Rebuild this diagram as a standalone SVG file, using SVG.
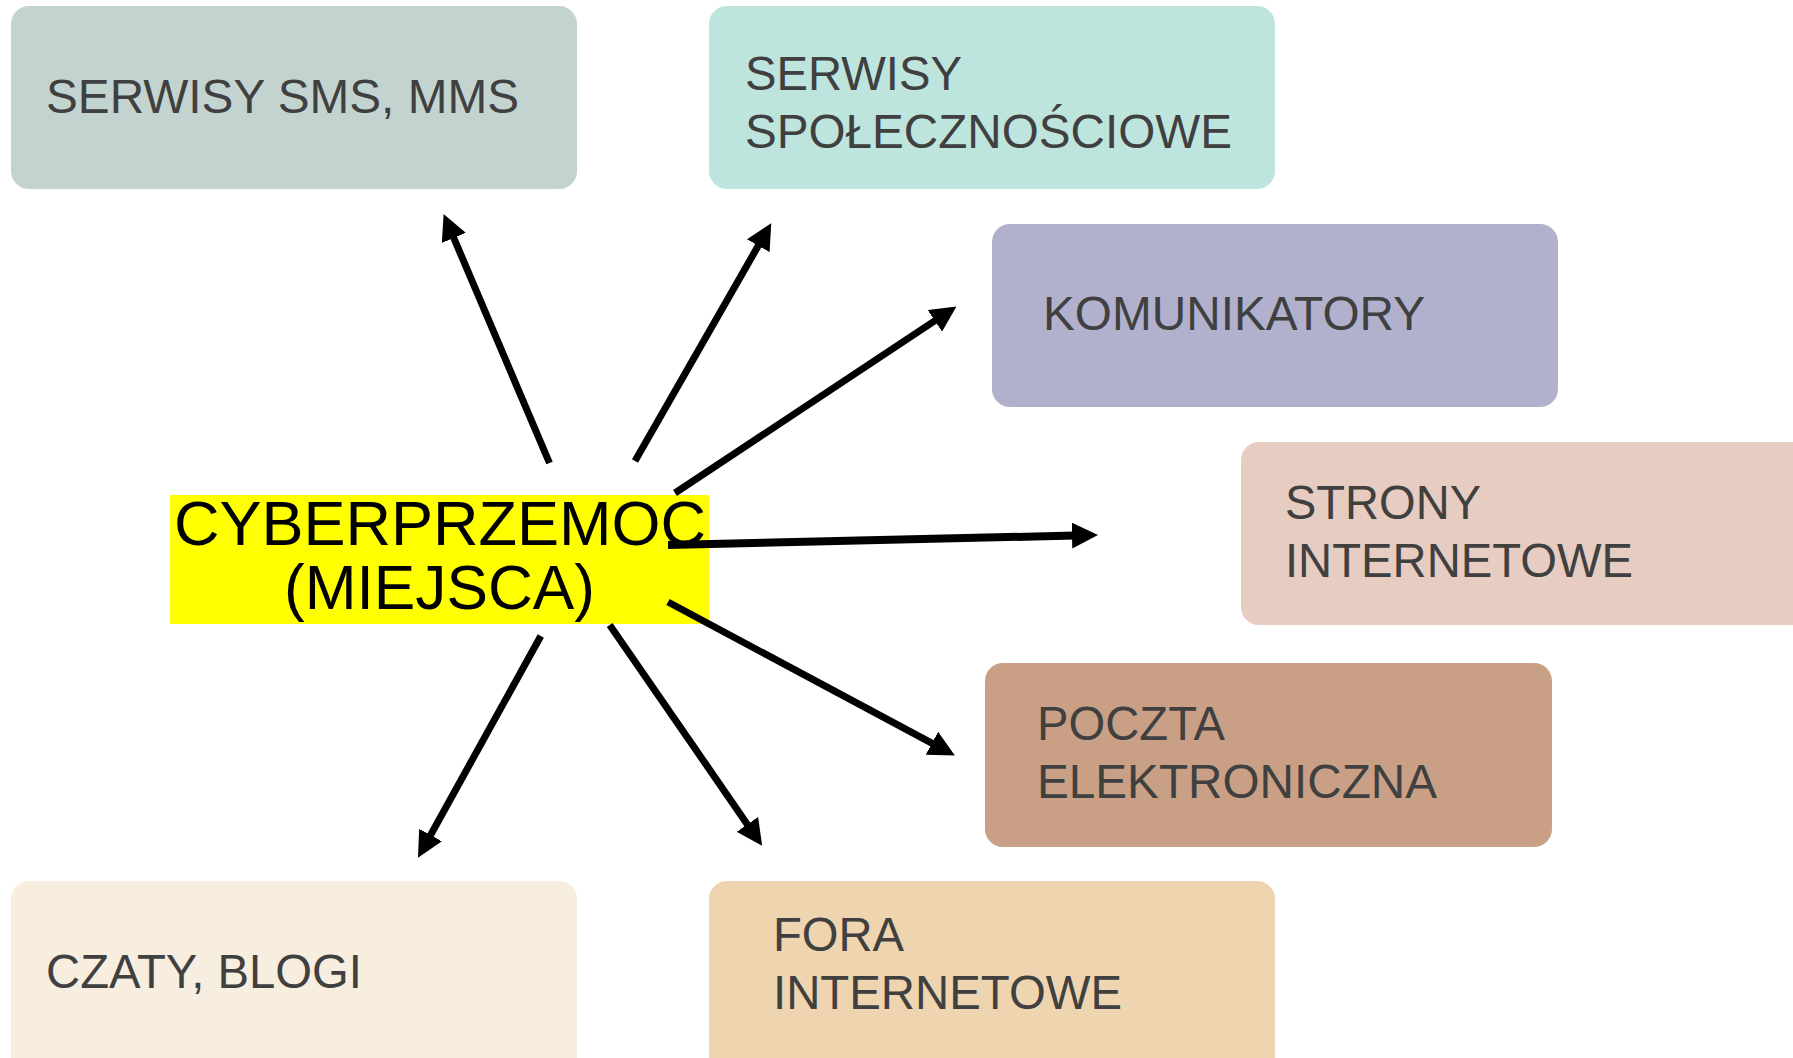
<svg xmlns="http://www.w3.org/2000/svg" width="1793" height="1058" viewBox="0 0 1793 1058">
<style>
.lbl{font-family:"Liberation Sans",Arial,sans-serif;font-size:48px;fill:#404040}
.ctr{font-family:"Liberation Sans",Arial,sans-serif;font-size:63px;fill:#000}
.con{stroke:#000;stroke-width:7;fill:none;marker-end:url(#ah)}
</style>
<defs>
<marker id="ah" markerUnits="userSpaceOnUse" markerWidth="26" markerHeight="26" refX="3" refY="13" orient="auto" viewBox="0 0 26 26">
<path d="M0,0 L26,13 L0,26 z" fill="#000"/>
</marker>
</defs>
<rect width="1793" height="1058" fill="#fff"/>
<g id="n-sms">
<rect x="11" y="6" width="566" height="183" rx="18" fill="#C3D4D0"/>
<text class="lbl" x="46" y="113" textLength="473" lengthAdjust="spacingAndGlyphs">SERWISY SMS, MMS</text>
</g>
<g id="n-spol">
<rect x="709" y="6" width="566" height="183" rx="18" fill="#BEE5DD"/>
<text class="lbl" x="745" y="90" textLength="217" lengthAdjust="spacingAndGlyphs">SERWISY</text>
<text class="lbl" x="745" y="148" textLength="487" lengthAdjust="spacingAndGlyphs">SPOŁECZNOŚCIOWE</text>
</g>
<g id="n-kom">
<rect x="992" y="224" width="566" height="183" rx="18" fill="#B1B1CE"/>
<text class="lbl" x="1043" y="330" textLength="382" lengthAdjust="spacingAndGlyphs">KOMUNIKATORY</text>
</g>
<g id="n-strony">
<rect x="1241" y="442" width="580" height="183" rx="18" fill="#E7CCC1"/>
<text class="lbl" x="1285" y="519" textLength="196" lengthAdjust="spacingAndGlyphs">STRONY</text>
<text class="lbl" x="1285" y="577" textLength="348" lengthAdjust="spacingAndGlyphs">INTERNETOWE</text>
</g>
<g id="n-poczta">
<rect x="985" y="663" width="567" height="184" rx="18" fill="#C9A086"/>
<text class="lbl" x="1037" y="740" textLength="188" lengthAdjust="spacingAndGlyphs">POCZTA</text>
<text class="lbl" x="1037" y="798" textLength="400" lengthAdjust="spacingAndGlyphs">ELEKTRONICZNA</text>
</g>
<g id="n-czaty">
<rect x="11" y="881" width="566" height="200" rx="18" fill="#F7EEE0"/>
<text class="lbl" x="46" y="988" textLength="316" lengthAdjust="spacingAndGlyphs">CZATY, BLOGI</text>
</g>
<g id="n-fora">
<rect x="709" y="881" width="566" height="200" rx="18" fill="#EFD4B0"/>
<text class="lbl" x="773" y="951" textLength="131" lengthAdjust="spacingAndGlyphs">FORA</text>
<text class="lbl" x="773" y="1009" textLength="349" lengthAdjust="spacingAndGlyphs">INTERNETOWE</text>
</g>
<g id="n-center">
<rect x="170" y="495" width="539" height="129" fill="#FFFF00"/>
<text class="ctr" x="174" y="545" textLength="532" lengthAdjust="spacingAndGlyphs">CYBERPRZEMOC</text>
<text class="ctr" x="284" y="609" textLength="311" lengthAdjust="spacingAndGlyphs">(MIEJSCA)</text>
</g>
<g id="connectors">
<line class="con" x1="549.5" y1="463" x2="452.6" y2="235.2"/>
<line class="con" x1="635" y1="461" x2="759.8" y2="243.1"/>
<line class="con" x1="675" y1="493" x2="937.3" y2="319.2"/>
<line class="con" x1="668" y1="545" x2="1075" y2="535.5" style="stroke-width:8"/>
<line class="con" x1="668" y1="602" x2="934.6" y2="744.6"/>
<line class="con" x1="609.7" y1="625" x2="749.1" y2="826.9"/>
<line class="con" x1="540.8" y1="636" x2="429.1" y2="837.7"/>
</g>
</svg>
